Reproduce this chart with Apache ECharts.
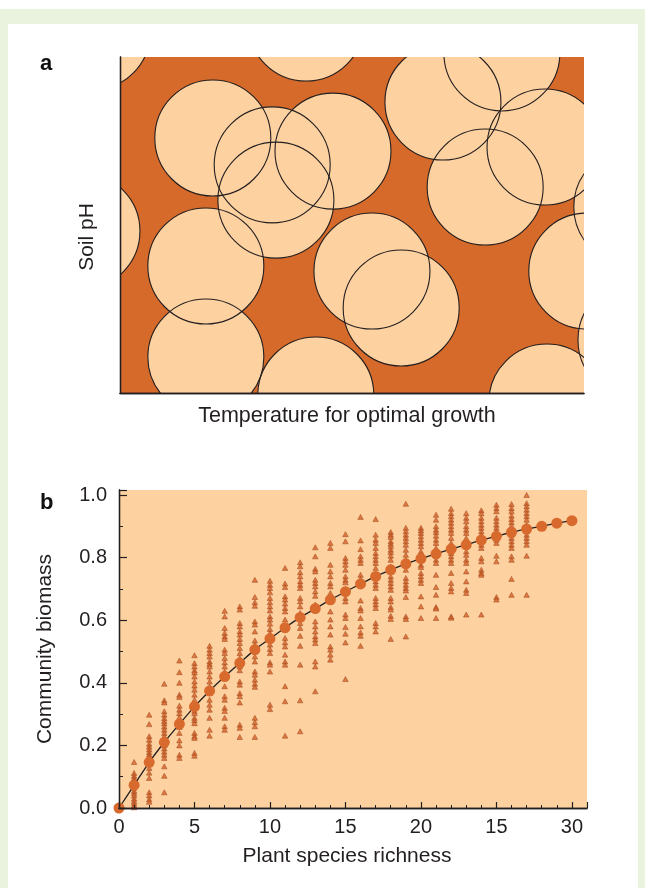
<!DOCTYPE html>
<html>
<head>
<meta charset="utf-8">
<script src="https://cdn.jsdelivr.net/npm/echarts@6/dist/echarts.min.js"></script>
<style>
  html, body { margin: 0; padding: 0; background: #ffffff; }
  #frame { position: absolute; left: 0; top: 9px; width: 645px; height: 879px; background: #eaf3de; }
  #panel { position: absolute; left: 8px; top: 24px; width: 630px; height: 864px; background: #ffffff; }
  #chart { position: absolute; left: 0; top: 0; width: 645px; height: 888px; }
</style>
</head>
<body>
<div id="frame"></div>
<div id="panel"></div>
<div id="chart"></div>
<script>
// ---------- Panel a: species niches (temperature vs soil pH), axis units 0-100 ----------
const nicheTemperature = [-6.0, 40.1, 20.0, 32.8, 45.9, 33.6, 69.6, 82.3, 91.6, 78.7, 110.3, 100.6, 111.2, 92.0, 42.2, 18.5, 18.5, 54.3, 60.6, -8.2];
const nichePH          = [107.4, 110.1, 75.9, 67.9, 72.0, 57.4, 86.6, 101.2, 73.2, 61.3, 55.4, 36.3, 15.8, -2.7, -0.6, 37.8, 10.7, 36.3, 25.3, 48.2];
const nicheRadius      = [12.5, 12.5, 12.5, 12.5, 12.5, 12.5, 12.5, 12.5, 12.5, 12.5, 12.5, 12.5, 12.5, 12.5, 12.5, 12.5, 12.5, 12.5, 12.5, 12.5];

// ---------- Panel b: community biomass vs plant species richness ----------
const richness = [0,1,2,3,4,5,6,7,8,9,10,11,12,13,14,15,16,17,18,19,20,21,22,23,24,25,26,27,28,29,30];
const meanBiomass = [0, 0.073, 0.146, 0.21, 0.268, 0.324, 0.374, 0.42, 0.463, 0.506, 0.541, 0.576, 0.609, 0.637, 0.665, 0.691,
  0.716, 0.74, 0.761, 0.78, 0.797, 0.812, 0.827, 0.841, 0.856, 0.868, 0.881, 0.891, 0.9, 0.91, 0.918];
// individual plots, richness 1..27
const plotBiomass = [
  [0.147, 0.112, 0.103, 0.095, 0.088, 0.08, 0.065, 0.055, 0.048, 0.04, 0.03, 0.022, 0.015, 0.008, 0.002],
  [0.298, 0.268, 0.229, 0.218, 0.205, 0.196, 0.187, 0.178, 0.17, 0.163, 0.155, 0.14, 0.128, 0.113, 0.096, 0.05, 0.04, 0.028, 0.02],
  [0.397, 0.344, 0.337, 0.309, 0.298, 0.287, 0.278, 0.27, 0.26, 0.25, 0.24, 0.229, 0.21, 0.2, 0.19, 0.18, 0.17, 0.16, 0.133, 0.103, 0.05],
  [0.471, 0.434, 0.4, 0.362, 0.355, 0.327, 0.314, 0.303, 0.29, 0.272, 0.259, 0.24, 0.216, 0.2, 0.17, 0.16],
  [0.488, 0.463, 0.452, 0.44, 0.433, 0.42, 0.404, 0.391, 0.378, 0.362, 0.346, 0.325, 0.31, 0.303, 0.288, 0.28, 0.271, 0.24, 0.23, 0.224, 0.176, 0.167],
  [0.518, 0.506, 0.495, 0.484, 0.468, 0.46, 0.452, 0.436, 0.42, 0.404, 0.388, 0.367, 0.346, 0.33, 0.314, 0.288, 0.25, 0.231],
  [0.63, 0.612, 0.575, 0.559, 0.548, 0.54, 0.506, 0.495, 0.479, 0.465, 0.452, 0.436, 0.415, 0.389, 0.357, 0.346, 0.32, 0.31, 0.288, 0.261, 0.25],
  [0.644, 0.634, 0.591, 0.58, 0.564, 0.554, 0.54, 0.527, 0.511, 0.495, 0.479, 0.465, 0.452, 0.44, 0.404, 0.394, 0.367, 0.357, 0.337, 0.266, 0.256, 0.227],
  [0.729, 0.674, 0.657, 0.646, 0.596, 0.586, 0.564, 0.535, 0.522, 0.5, 0.484, 0.468, 0.436, 0.426, 0.41, 0.397, 0.387, 0.288, 0.274, 0.261, 0.227],
  [0.726, 0.713, 0.703, 0.689, 0.671, 0.657, 0.644, 0.631, 0.612, 0.602, 0.589, 0.572, 0.559, 0.538, 0.522, 0.508, 0.495, 0.465, 0.458, 0.436, 0.33, 0.316],
  [0.767, 0.717, 0.706, 0.676, 0.666, 0.653, 0.639, 0.628, 0.602, 0.57, 0.543, 0.529, 0.516, 0.49, 0.468, 0.458, 0.389, 0.341, 0.231],
  [0.785, 0.772, 0.753, 0.74, 0.724, 0.713, 0.703, 0.671, 0.66, 0.644, 0.623, 0.591, 0.575, 0.55, 0.518, 0.458, 0.344, 0.245],
  [0.833, 0.804, 0.764, 0.756, 0.729, 0.719, 0.708, 0.692, 0.678, 0.65, 0.634, 0.596, 0.58, 0.564, 0.548, 0.538, 0.527, 0.468, 0.452, 0.373],
  [0.847, 0.831, 0.777, 0.756, 0.74, 0.719, 0.708, 0.687, 0.628, 0.602, 0.58, 0.554, 0.516, 0.506, 0.49, 0.474],
  [0.875, 0.852, 0.799, 0.788, 0.777, 0.761, 0.74, 0.729, 0.721, 0.7, 0.689, 0.671, 0.66, 0.618, 0.607, 0.578, 0.557, 0.529, 0.412],
  [0.93, 0.855, 0.827, 0.804, 0.793, 0.783, 0.745, 0.732, 0.724, 0.663, 0.639, 0.631, 0.607, 0.58, 0.561, 0.55, 0.518],
  [0.923, 0.873, 0.857, 0.847, 0.831, 0.815, 0.804, 0.793, 0.783, 0.767, 0.724, 0.713, 0.703, 0.671, 0.66, 0.65, 0.639, 0.591, 0.58, 0.564],
  [0.882, 0.873, 0.866, 0.852, 0.844, 0.836, 0.825, 0.817, 0.806, 0.793, 0.772, 0.756, 0.74, 0.729, 0.719, 0.708, 0.697, 0.671, 0.66, 0.642, 0.634, 0.614, 0.604, 0.54],
  [0.972, 0.895, 0.884, 0.873, 0.863, 0.852, 0.841, 0.825, 0.809, 0.793, 0.777, 0.761, 0.735, 0.724, 0.713, 0.703, 0.695, 0.674, 0.612, 0.604, 0.548],
  [0.895, 0.887, 0.879, 0.868, 0.857, 0.847, 0.836, 0.82, 0.809, 0.793, 0.777, 0.77, 0.751, 0.74, 0.729, 0.719, 0.676, 0.644, 0.607],
  [0.937, 0.921, 0.9, 0.889, 0.881, 0.87, 0.857, 0.847, 0.831, 0.82, 0.793, 0.783, 0.745, 0.706, 0.681, 0.642, 0.637, 0.607],
  [0.956, 0.942, 0.932, 0.921, 0.911, 0.9, 0.889, 0.879, 0.863, 0.847, 0.836, 0.825, 0.815, 0.804, 0.793, 0.783, 0.751, 0.719, 0.703, 0.692, 0.612, 0.608],
  [0.942, 0.927, 0.916, 0.9, 0.889, 0.879, 0.863, 0.847, 0.836, 0.82, 0.809, 0.793, 0.783, 0.756, 0.724, 0.697, 0.687, 0.618],
  [0.951, 0.942, 0.927, 0.916, 0.905, 0.895, 0.884, 0.873, 0.863, 0.852, 0.841, 0.831, 0.799, 0.788, 0.761, 0.751, 0.745, 0.618],
  [0.969, 0.958, 0.948, 0.927, 0.916, 0.905, 0.895, 0.884, 0.868, 0.857, 0.847, 0.806, 0.788, 0.674, 0.666],
  [0.971, 0.958, 0.948, 0.934, 0.923, 0.913, 0.902, 0.884, 0.873, 0.863, 0.852, 0.841, 0.831, 0.804, 0.793, 0.732, 0.681],
  [1.0, 0.974, 0.964, 0.953, 0.942, 0.932, 0.921, 0.905, 0.884, 0.873, 0.863, 0.852, 0.841, 0.806, 0.681]
];
const xTickLabels = ['0', '5', '10', '15', '20', '15', '30'];
const yTickLabels = ['0.0', '0.2', '0.4', '0.6', '0.8', '1.0'];

// ---------- build ----------
const ORANGE = '#d56a2b', PEACH = '#fdd1a0', INK = '#231f20';
const FONT = 'Liberation Sans, Arial, Helvetica, sans-serif';

const nicheData = nicheTemperature.map((t, i) => [t, nichePH[i], nicheRadius[i]]);
const plotData = [];
plotBiomass.forEach((arr, i) => arr.forEach(v => plotData.push([i + 1, v])));
const meanData = richness.map((r, i) => [r, meanBiomass[i]]);

function circleItem(fill, stroke) {
  return function (params, api) {
    const c = api.coord([api.value(0), api.value(1)]);
    const r = api.size([api.value(2), 0])[0];
    return { type: 'circle', shape: { cx: c[0], cy: c[1], r: r },
      style: { fill: fill, stroke: stroke, lineWidth: 1.1 } };
  };
}

const lineOnly = { show: true, lineStyle: { color: INK, width: 1.3 } };
const hidden = { show: false };

const chart = echarts.init(document.getElementById('chart'), null, { renderer: 'canvas' });
chart.setOption({
  animation: false,
  backgroundColor: 'transparent',
  textStyle: { fontFamily: FONT },
  title: [
    { text: 'a', left: 35, top: 48, textStyle: { fontSize: 22, fontWeight: 'bold', color: '#111', fontFamily: FONT } },
    { text: 'b', left: 35, top: 487, textStyle: { fontSize: 22, fontWeight: 'bold', color: '#111', fontFamily: FONT } }
  ],
  grid: [
    { left: 120, top: 57, width: 464, height: 336, show: true, backgroundColor: ORANGE, borderWidth: 0 },
    { left: 119, top: 490, width: 468, height: 318, show: true, backgroundColor: PEACH, borderWidth: 0 }
  ],
  xAxis: [
    { gridIndex: 0, type: 'value', min: 0, max: 100, position: 'bottom', z: 10,
      axisLine: lineOnly, axisTick: hidden, axisLabel: hidden, splitLine: hidden,
      name: 'Temperature for optimal growth', nameLocation: 'middle', nameGap: 12,
      nameTextStyle: { fontSize: 21.5, color: INK, fontFamily: FONT, verticalAlign: 'top', padding: [0, 10, 0, 0] } },
    { gridIndex: 0, type: 'value', min: 0, max: 100, position: 'top', z: 10,
      axisLine: lineOnly, axisTick: hidden, axisLabel: hidden, splitLine: hidden },
    { gridIndex: 1, type: 'value', min: 0, max: 31, interval: 5, position: 'bottom', z: 10,
      axisLine: lineOnly,
      axisTick: { show: true, inside: true, length: 6, lineStyle: { color: INK, width: 1.2 } },
      minorTick: { show: true, splitNumber: 5, length: 3, lineStyle: { color: INK, width: 1 } },
      axisLabel: { show: true, margin: 9, fontSize: 20, color: INK, fontFamily: FONT,
        formatter: v => (v % 5 === 0 && v <= 30) ? xTickLabels[v / 5] : '' },
      splitLine: hidden,
      name: 'Plant species richness', nameLocation: 'middle', nameGap: 38,
      nameTextStyle: { fontSize: 21, color: INK, fontFamily: FONT, verticalAlign: 'top', padding: [0, 12, 0, 0] } },
    { gridIndex: 1, type: 'value', min: 0, max: 31, position: 'top', z: 10,
      axisLine: lineOnly, axisTick: hidden, axisLabel: hidden, splitLine: hidden }
  ],
  yAxis: [
    { gridIndex: 0, type: 'value', min: 0, max: 100, position: 'left', z: 10,
      axisLine: lineOnly, axisTick: hidden, axisLabel: hidden, splitLine: hidden,
      name: 'Soil pH', nameLocation: 'middle', nameGap: 22, nameRotate: 90,
      nameTextStyle: { fontSize: 21, color: INK, fontFamily: FONT, padding: [0, 24, 0, 0] } },
    { gridIndex: 0, type: 'value', min: 0, max: 100, position: 'right', z: 10,
      axisLine: lineOnly, axisTick: hidden, axisLabel: hidden, splitLine: hidden },
    { gridIndex: 1, type: 'value', min: 0, max: 1.016, interval: 0.2, position: 'left', z: 10,
      axisLine: lineOnly,
      axisTick: { show: true, inside: true, length: 8, lineStyle: { color: INK, width: 1.2 } },
      minorTick: { show: true, splitNumber: 2, length: 4, lineStyle: { color: INK, width: 1 } },
      axisLabel: { show: true, margin: 12, fontSize: 20, color: INK, fontFamily: FONT,
        formatter: (v, i) => (yTickLabels[i] !== undefined && v <= 1.0001) ? yTickLabels[i] : '' },
      splitLine: hidden,
      name: 'Community biomass', nameLocation: 'middle', nameGap: 63, nameRotate: 90,
      nameTextStyle: { fontSize: 21, color: INK, fontFamily: FONT } },
    { gridIndex: 1, type: 'value', min: 0, max: 1.016, position: 'right', z: 10,
      axisLine: lineOnly, axisTick: hidden, axisLabel: hidden, splitLine: hidden }
  ],
  series: [
    { type: 'custom', xAxisIndex: 0, yAxisIndex: 0, clip: true, z: 2,
      renderItem: circleItem(PEACH, null), data: nicheData },
    { type: 'custom', xAxisIndex: 0, yAxisIndex: 0, clip: true, z: 3,
      renderItem: circleItem(null, INK), data: nicheData },
    { type: 'scatter', xAxisIndex: 2, yAxisIndex: 2, z: 3, symbol: 'triangle', symbolSize: [5.5, 5],
      itemStyle: { color: '#d2622a', borderColor: '#9e4118', borderWidth: 0.6 },
      data: plotData },
    { type: 'line', xAxisIndex: 2, yAxisIndex: 2, z: 4, smooth: 0.3, symbol: 'circle', symbolSize: 11,
      showSymbol: true,
      lineStyle: { color: INK, width: 1.3 },
      itemStyle: { color: '#d96a2d', borderWidth: 0 },
      data: meanData }
  ]
});
</script>
</body>
</html>
